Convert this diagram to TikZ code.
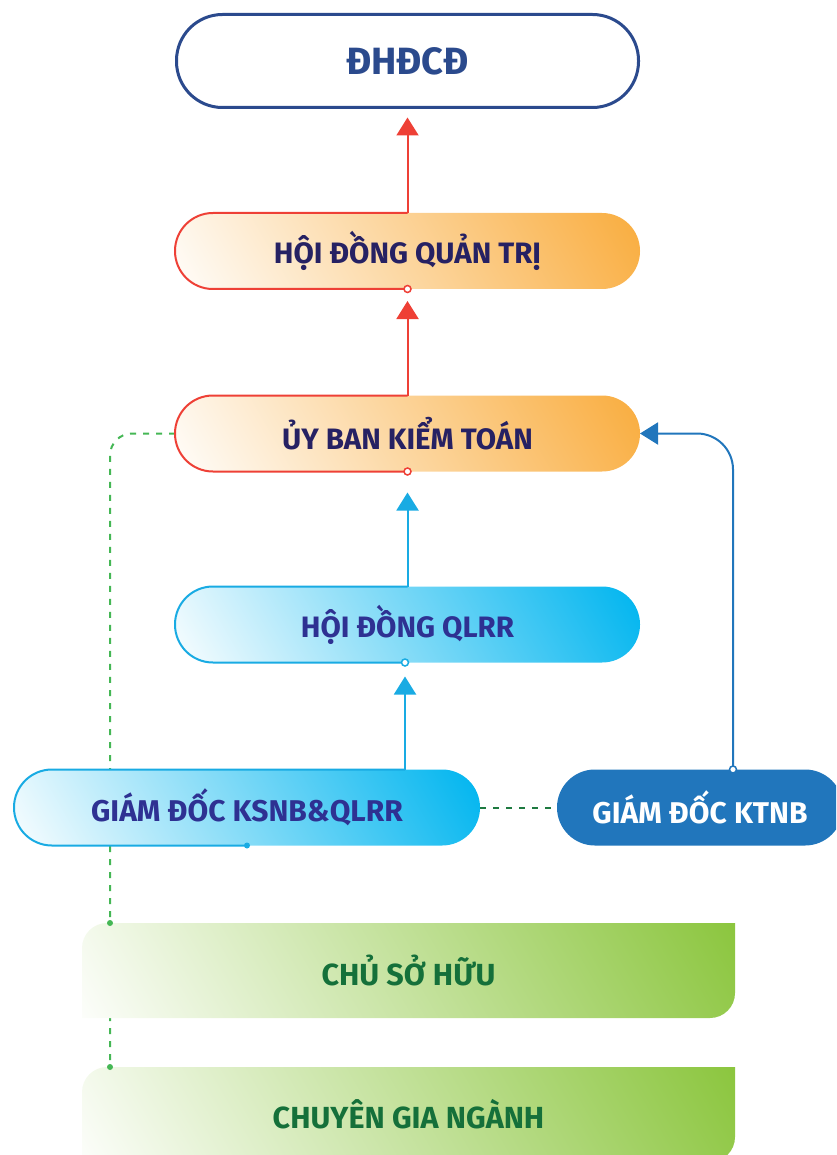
\documentclass[tikz,border=0pt]{standalone}
\usepackage{fontspec}
\setmainfont{Fira Sans}
\usetikzlibrary{arrows.meta,calc}

\definecolor{navy}{HTML}{2B4A8D}
\definecolor{inkdark}{HTML}{262163}
\definecolor{inkblue}{HTML}{2E3192}
\definecolor{redline}{HTML}{EE4036}
\definecolor{orangefill}{HTML}{F9AD3F}
\definecolor{cyanfill}{HTML}{00B5EF}
\definecolor{cyanline}{HTML}{19ABE3}
\definecolor{steel}{HTML}{2176BC}
\definecolor{leaf}{HTML}{8CC63F}
\definecolor{leafink}{HTML}{15703A}
\definecolor{dashgreen}{HTML}{45B755}
\definecolor{darkdash}{HTML}{1E7A40}

% diagonal fills: white in the lower left, full colour in the upper right
\pgfdeclareverticalshading{warmgrad}{100bp}{color(0bp)=(white); color(14bp)=(white); color(84bp)=(orangefill); color(100bp)=(orangefill)}
\pgfdeclareverticalshading{coolgrad}{100bp}{color(0bp)=(white); color(14bp)=(white); color(84bp)=(cyanfill); color(100bp)=(cyanfill)}
\pgfdeclareverticalshading{leafgrad}{100bp}{color(0bp)=(white); color(14bp)=(white); color(84bp)=(leaf); color(100bp)=(leaf)}

\pgfdeclarelayer{back}
\pgfdeclarelayer{panel}
\pgfsetlayers{back,panel,main}

\tikzset{
  pill/.style={rectangle, inner sep=0pt, outer sep=0pt,
    minimum width=465pt, minimum height=76pt, rounded corners=37.9pt},
  title/.style={font=\bfseries\fontsize{#1}{#1}\selectfont},
  warm/.style={pill, shade, shading=warmgrad, shading angle=-60, text=inkdark, title=29.5},
  cool/.style={pill, shade, shading=coolgrad, shading angle=-60, text=inkblue, title=29.5},
  solidbox/.style={pill, fill=steel, text=white},
  slab/.style={rectangle, inner sep=0pt, outer sep=0pt,
    minimum width=653pt, minimum height=95pt, text=leafink},
  rim/.style={line width=2pt, rounded corners=37.9pt},
  link/.style={line width=2pt, -{Triangle[width=22pt,length=18pt]}},
  hollow/.style={circle, draw, fill=white, line width=1.5pt,
    inner sep=0pt, minimum size=7pt},
  knob/.style={circle, inner sep=0pt, minimum size=6pt},
  dashline/.style={line width=2pt, dash pattern=on 6pt off 7pt},
}

\begin{document}
\begin{tikzpicture}[x=1pt,y=1pt]
\useasboundingbox (0,0) rectangle (836,-1155);
\clip (0,0) rectangle (836,-1155);

% --- boxes ---
\node[pill, draw=navy, line width=3pt, minimum width=462pt, minimum height=93pt,
      rounded corners=46pt, text=navy, title=38] (dhdcd) at (407.5,-61) {ĐHĐCĐ};
\node[warm] (hdqt) at (407.5,-251) {HỘI ĐỒNG QUẢN TRỊ};
\node[warm] (ubkt) at (407.5,-433.5) {ỦY BAN KIỂM TOÁN};
\node[cool] (qlrr) at (407.5,-624.5) {HỘI ĐỒNG QLRR};
\node[cool, minimum width=466pt, title=30] (ksnb) at (247,-807.5) {GIÁM ĐỐC KSNB\&QLRR};
\node[solidbox, minimum width=286pt, title=30] (ktnb) at (700,-807.5) {GIÁM ĐỐC KTNB};
\node[slab, title=30.5] (owner) at (408.5,-970.5) {CHỦ SỞ HỮU};
\node[slab, title=30.5] (expert) at (408.5,-1114.5) {CHUYÊN GIA NGÀNH};

% --- green panels with two rounded corners ---
\begin{pgfonlayer}{panel}
  \foreach \p in {owner,expert}{
    \shade[shading=leafgrad, shading angle=-60]
      ($(\p.north west)+(0,-25)$) arc[start angle=180, end angle=90, radius=25]
      -- (\p.north east) -- ($(\p.south east)+(0,25)$)
      arc[start angle=0, end angle=-90, radius=25] -- (\p.south west) -- cycle;
  }
\end{pgfonlayer}

% --- attachment points ---
\coordinate (hdqtTop) at (hdqt.north);
\coordinate (hdqtBot) at (hdqt.south);
\coordinate (ubktTop) at (ubkt.north);
\coordinate (ubktBot) at (ubkt.south);
\coordinate (qlrrTop) at (qlrr.north);
\coordinate (qlrrBot) at ($(qlrr.south)+(-2.5,0)$);
\coordinate (ksnbTop) at ($(ksnb.north west)+(391,0)$);
\coordinate (ksnbBot) at ($(ksnb.south west)+(233,0)$);
\coordinate (ktnbTop) at ($(ktnb.north west)+(176,0)$);
\coordinate (ubktEast) at (ubkt.east);
\coordinate (ubktWest) at (ubkt.west);
\coordinate (ownerPin) at ($(owner.north west)+(28,0)$);
\coordinate (expertPin) at ($(expert.north west)+(28,0)$);

% --- outlines on the left half of the pills ---
\draw[rim, redline] (hdqtTop) -- (hdqt.north west) -- (hdqt.south west) -- (hdqtBot);
\draw[rim, redline] (ubktTop) -- (ubkt.north west) -- (ubkt.south west) -- (ubktBot);
\draw[rim, cyanline] (qlrrTop) -- (qlrr.north west) -- (qlrr.south west) -- (qlrrBot);
\draw[rim, cyanline] (ksnbTop) -- (ksnb.north west) -- (ksnb.south west) -- (ksnbBot);

% --- upward links ---
\draw[link, redline, shorten >=10pt] (hdqtTop) -- (dhdcd.south);
\draw[link, redline, shorten >=12pt] (ubktTop) -- (hdqtBot);
\draw[link, cyanline, shorten >=21pt] (qlrrTop) -- (ubktBot);
\draw[link, cyanline, shorten >=14pt] (ksnbTop) -- (qlrrBot);
\draw[link, steel, rounded corners=36pt] (ktnbTop) |- (ubktEast);

% --- end markers ---
\node[hollow, draw=redline] at (hdqtBot) {};
\node[hollow, draw=redline] at (ubktBot) {};
\node[hollow, draw=cyanline] at (qlrrBot) {};
\node[hollow, draw=steel] at (ktnbTop) {};
\node[knob, fill=cyanline] at (ksnbBot) {};

% --- dashed relations ---
\begin{pgfonlayer}{back}
  \draw[dashline, dashgreen, rounded corners=22pt]
    (ubktWest) -- (expertPin |- ubktWest) -- (expertPin);
\end{pgfonlayer}
\draw[dashline, darkdash] (ksnb.east) -- (ktnb.west);
\node[knob, fill=dashgreen] at (ownerPin) {};
\node[knob, fill=dashgreen] at (expertPin) {};

\end{tikzpicture}
\end{document}
